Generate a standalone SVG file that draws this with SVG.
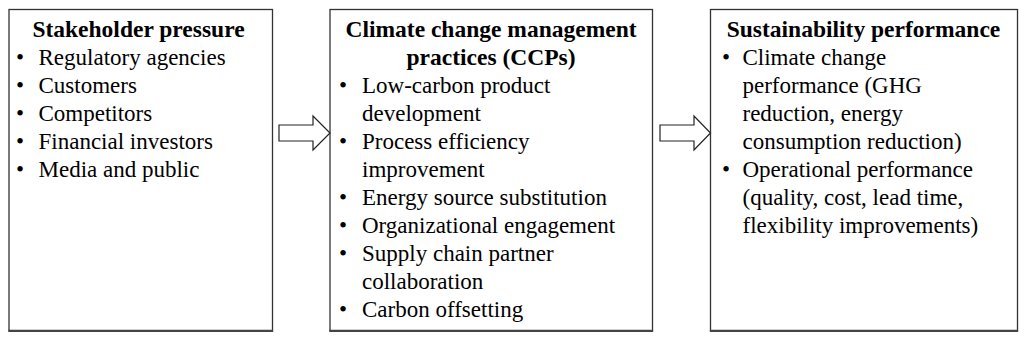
<svg xmlns="http://www.w3.org/2000/svg" width="1024" height="339" viewBox="0 0 1024 339">
<style>
.box{fill:#fff;stroke:#333;stroke-width:1.3}
.bot{stroke:#444;stroke-width:2.2}
.t{font-family:"Liberation Serif","Times New Roman",serif;font-size:23px;fill:#000}
.h{font-weight:bold;text-anchor:middle;font-size:23.5px}
.arr{fill:#fff;stroke:#222;stroke-width:1.2;stroke-linejoin:miter}
</style>
<rect width="1024" height="339" fill="#fff"/>
<g id="stakeholder">
<rect class="box" x="9" y="9.5" width="263.5" height="321.5"/>
<line class="bot" x1="8.4" y1="330.9" x2="273.1" y2="330.9"/>
<text class="t h" x="138.5" y="37">Stakeholder pressure</text>
<text class="t" x="16" y="65">•</text><text class="t" x="38.5" y="65">Regulatory agencies</text>
<text class="t" x="16" y="93">•</text><text class="t" x="38.5" y="93">Customers</text>
<text class="t" x="16" y="121">•</text><text class="t" x="38.5" y="121">Competitors</text>
<text class="t" x="16" y="149">•</text><text class="t" x="38.5" y="149">Financial investors</text>
<text class="t" x="16" y="177">•</text><text class="t" x="38.5" y="177">Media and public</text>
</g>
<g id="ccp">
<rect class="box" x="330" y="9.5" width="322.5" height="321.5"/>
<line class="bot" x1="329.4" y1="330.9" x2="653.1" y2="330.9"/>
<text class="t h" x="491" y="37">Climate change management</text>
<text class="t h" x="491" y="65">practices (CCPs)</text>
<text class="t" x="339" y="93">•</text><text class="t" x="362" y="93">Low-carbon product</text>
<text class="t" x="362" y="121">development</text>
<text class="t" x="339" y="149">•</text><text class="t" x="362" y="149">Process efficiency</text>
<text class="t" x="362" y="177">improvement</text>
<text class="t" x="339" y="205">•</text><text class="t" x="362" y="205">Energy source substitution</text>
<text class="t" x="339" y="233">•</text><text class="t" x="362" y="233">Organizational engagement</text>
<text class="t" x="339" y="261">•</text><text class="t" x="362" y="261">Supply chain partner</text>
<text class="t" x="362" y="289">collaboration</text>
<text class="t" x="339" y="317">•</text><text class="t" x="362" y="317">Carbon offsetting</text>
</g>
<g id="sustainability">
<rect class="box" x="710.5" y="9.5" width="307" height="321.5"/>
<line class="bot" x1="709.9" y1="330.9" x2="1018.1" y2="330.9"/>
<text class="t h" x="863.5" y="37">Sustainability performance</text>
<text class="t" x="722" y="65">•</text><text class="t" x="742.5" y="65">Climate change</text>
<text class="t" x="742.5" y="93">performance (GHG</text>
<text class="t" x="742.5" y="121">reduction, energy</text>
<text class="t" x="742.5" y="149">consumption reduction)</text>
<text class="t" x="722" y="177">•</text><text class="t" x="742.5" y="177">Operational performance</text>
<text class="t" x="742.5" y="205">(quality, cost, lead time,</text>
<text class="t" x="742.5" y="233">flexibility improvements)</text>
</g>
<g id="connectors">
<polygon class="arr" points="279,125 313,125 313,116 330,133 313,150 313,141 279,141"/>
<polygon class="arr" points="660,125 694,125 694,116 710.5,133 694,150 694,141 660,141"/>
</g>
</svg>
